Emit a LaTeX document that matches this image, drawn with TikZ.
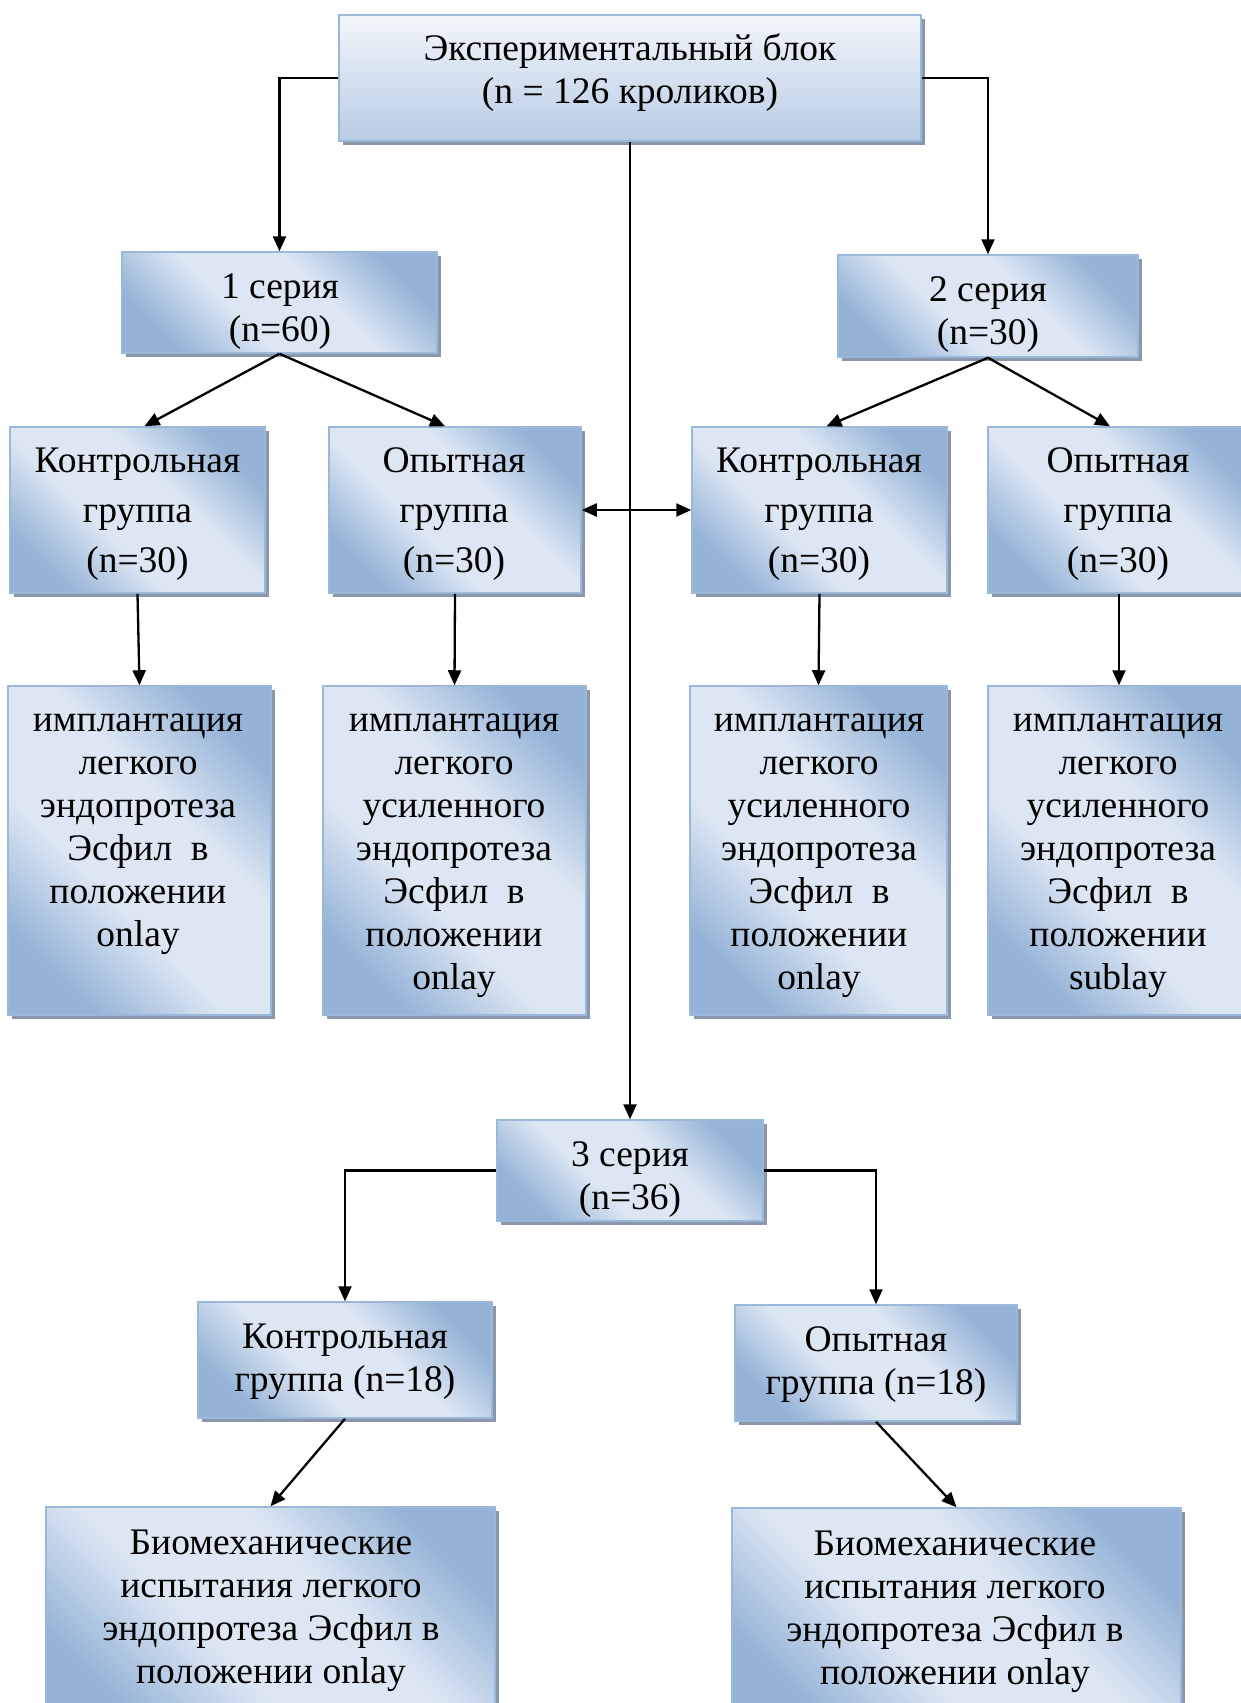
\documentclass[tikz,border=0pt]{standalone}
\usepackage{fontspec}
\setmainfont{Liberation Serif}
\usetikzlibrary{arrows.meta,shadows,calc}
\definecolor{bdark}{RGB}{149,179,215}
\definecolor{blight}{RGB}{221,231,243}
\definecolor{bborder}{RGB}{155,184,218}
\definecolor{bshadow}{RGB}{138,150,170}
\definecolor{toplight}{RGB}{242,246,251}
\definecolor{topdark}{RGB}{184,204,228}
\pgfdeclarehorizontalshading{wgrad}{100bp}{color(0bp)=(bdark); color(25bp)=(bdark); color(41bp)=(blight); color(59bp)=(blight); color(75bp)=(bdark); color(100bp)=(bdark)}
\begin{document}
\begin{tikzpicture}[x=1pt,y=-1pt,
  box/.style={draw=bborder, line width=1.5pt, inner sep=0pt,
    shading=wgrad, shading angle=45,
    drop shadow={shadow xshift=4pt, shadow yshift=-4pt, fill=bshadow, opacity=1}},
  topbox/.style={draw=bborder, line width=1.5pt, inner sep=0pt,
    top color=toplight, bottom color=topdark,
    drop shadow={shadow xshift=4pt, shadow yshift=-4pt, fill=bshadow, opacity=1}},
  txt/.style={align=center, inner sep=0pt, font=\fontsize{37.5}{43}\selectfont,
    execute at begin node=\strut, execute at end node=\strut},
  txtw/.style={txt, font=\fontsize{37.5}{50}\selectfont},
  arr/.style={line width=2.3pt, -{Triangle[length=15pt,width=13pt]}},
  darr/.style={line width=2.3pt, {Triangle[length=15pt,width=13pt]}-{Triangle[length=15pt,width=13pt]}},
]
\path[use as bounding box, fill=white] (0,0) rectangle (1241,1703);

% boxes
\node[topbox, minimum width=582pt, minimum height=126pt] (top) at (630,78) {};
\node[box, minimum width=315pt, minimum height=101pt] (s1) at (279.5,302.5) {};
\node[box, minimum width=300pt, minimum height=102pt] (s2) at (988,306) {};
\node[box, minimum width=255pt, minimum height=166pt] (K1) at (137.5,510) {};
\node[box, minimum width=252pt, minimum height=166pt] (O1) at (455,510) {};
\node[box, minimum width=255pt, minimum height=166pt] (K2) at (819.5,510) {};
\node[box, minimum width=262pt, minimum height=166pt] (O2) at (1119,510) {};
\node[box, minimum width=263pt, minimum height=329pt] (L1) at (139.5,850.5) {};
\node[box, minimum width=263pt, minimum height=329pt] (L2) at (454.5,850.5) {};
\node[box, minimum width=257pt, minimum height=329pt] (L3) at (818.5,850.5) {};
\node[box, minimum width=262pt, minimum height=329pt] (L4) at (1119,850.5) {};
\node[box, minimum width=266pt, minimum height=101pt] (s3) at (630,1170.5) {};
\node[box, minimum width=294pt, minimum height=116pt] (C3) at (345,1360) {};
\node[box, minimum width=282pt, minimum height=116pt] (O3) at (876,1363) {};
\node[box, minimum width=449pt, minimum height=222pt] (B1) at (270.5,1618) {};
\node[box, minimum width=449pt, minimum height=222pt] (B2) at (956.5,1619) {};

% texts
\node[txt] (tTop) at (630,75.5) {Экспериментальный блок\\(n = 126 кроликов)};
\node[txt] (tS1) at (280,314) {1 серия\\(n=60)};
\node[txt] (tS2) at (988,317) {2 серия\\(n=30)};
\node[txtw] (tK1) at (137.5,517.5) {Контрольная\\группа\\(n=30)};
\node[txtw] (tO1) at (454,517.5) {Опытная\\группа\\(n=30)};
\node[txtw] (tK2) at (819,517.5) {Контрольная\\группа\\(n=30)};
\node[txtw] (tO2) at (1118,517.5) {Опытная\\группа\\(n=30)};
\node[txt] (tL1) at (138,836.5) {имплантация\\легкого\\эндопротеза\\Эсфил\ \ в\\положении\\onlay};
\node[txt] (tL2) at (454,858) {имплантация\\легкого\\усиленного\\эндопротеза\\Эсфил\ \ в\\положении\\onlay};
\node[txt] (tL3) at (819,858) {имплантация\\легкого\\усиленного\\эндопротеза\\Эсфил\ \ в\\положении\\onlay};
\node[txt] (tL4) at (1118,858) {имплантация\\легкого\\усиленного\\эндопротеза\\Эсфил\ \ в\\положении\\sublay};
\node[txt] (tS3) at (630,1182.5) {3 серия\\(n=36)};
\node[txt] (tC3) at (345,1364) {Контрольная\\группа (n=18)};
\node[txt] (tO3) at (876,1367.5) {Опытная\\группа (n=18)};
\node[txt] (tB1) at (271,1613) {Биомеханические\\испытания легкого\\эндопротеза Эсфил в\\положении onlay};
\node[txt] (tB2) at (955,1614) {Биомеханические\\испытания легкого\\эндопротеза Эсфил в\\положении onlay};

% connectors
\draw[arr] (top.west) -| (s1.north);
\draw[arr] (top.east) -| (s2.north);
\draw[arr] (top.south) -- (s3.north);
\draw[arr] (s1.south) -- ([xshift=7pt]K1.north);
\draw[arr] (s1.south) -- ([xshift=-10pt]O1.north);
\draw[arr] (s2.south) -- ([xshift=7pt]K2.north);
\draw[arr] (s2.south) -- ([xshift=-9pt]O2.north);
\draw[darr] (O1.east) -- (K2.west);
\draw[arr] (K1.south) -- (L1.north);
\draw[arr] (O1.south) -- (L2.north);
\draw[arr] (K2.south) -- (L3.north);
\draw[arr] (O2.south) -- (L4.north);
\draw[arr] (s3.west) -| (C3.north);
\draw[arr] (s3.east) -| (O3.north);
\draw[arr] (C3.south) -- (B1.north);
\draw[arr] (O3.south) -- (B2.north);
\end{tikzpicture}
\end{document}
